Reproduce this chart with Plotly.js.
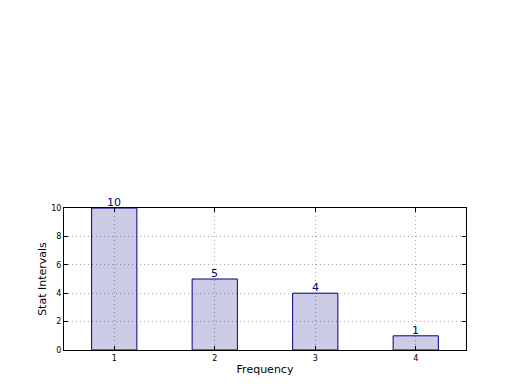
<!DOCTYPE html>
<html><head><meta charset="utf-8">
<script src="https://cdn.plot.ly/plotly-3.0.1.min.js"></script>
<style>body{margin:0;padding:0;background:#fff}#chart{width:520px;height:390px}</style>
</head><body><div id="chart"></div>
<script>
var categories = [1, 2, 3, 4];
var values = [10, 5, 4, 1];
var yTicks = [0, 2, 4, 6, 8, 10];

var navy = '#000080';
var trace = {
  type: 'bar', x: categories, y: values, width: 0.45,
  marker: {color: 'rgba(0,0,128,0.2)', line: {color: navy, width: 1}},
  hoverinfo: 'none'
};
var annotations = categories.map(function (c, i) {
  return {x: c, y: values[i], text: String(values[i]), showarrow: false,
    yanchor: 'bottom', xanchor: 'center', yshift: -3,
    font: {family: 'DejaVu Sans', size: 11, color: navy}};
});
var axisCommon = {
  showline: true, linecolor: '#000', linewidth: 1, mirror: 'allticks',
  ticks: 'inside', ticklen: 4, tickcolor: '#000', tickwidth: 1,
  showgrid: true, gridcolor: '#a8a8a8', griddash: '1px,3px', gridwidth: 1,
  zeroline: false, layer: 'above traces',
  tickfont: {family: 'DejaVu Sans', size: 8, color: '#000'}
};
var layout = {
  width: 520, height: 390,
  margin: {l: 64, r: 54, t: 208, b: 40},
  paper_bgcolor: '#fff', plot_bgcolor: '#fff',
  showlegend: false,
  font: {family: 'DejaVu Sans', color: '#000'},
  xaxis: Object.assign({}, axisCommon, {
    range: [0.5, 4.5], tickvals: categories, ticktext: categories.map(String),
    title: {text: 'Frequency', font: {family: 'DejaVu Sans', size: 11}, standoff: 3}
  }),
  yaxis: Object.assign({}, axisCommon, {
    range: [0, 10], tickvals: yTicks, ticktext: yTicks.map(String),
    title: {text: 'Stat Intervals', font: {family: 'DejaVu Sans', size: 11}, standoff: 2}
  }),
  annotations: annotations
};
Plotly.newPlot('chart', [trace], layout, {displayModeBar: false, staticPlot: true});
</script></body></html>
